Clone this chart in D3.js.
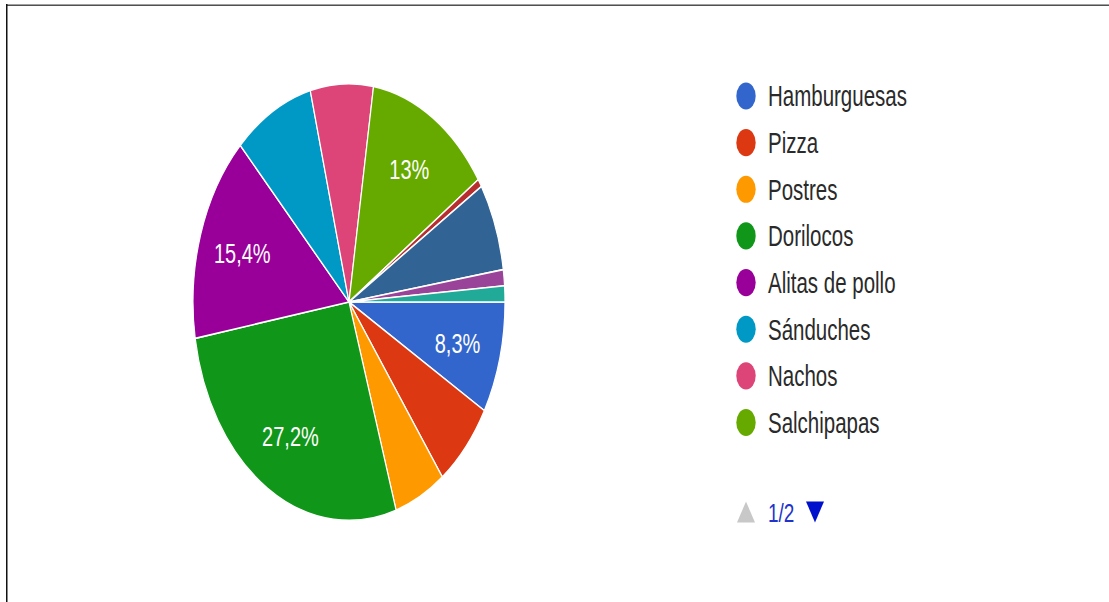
<!DOCTYPE html>
<html>
<head>
<meta charset="utf-8">
<script src="https://cdn.jsdelivr.net/npm/d3@7"></script>
<style>
  html, body { margin: 0; padding: 0; background: #fff; }
  svg { display: block; }
</style>
</head>
<body>
<svg id="chart" width="1109" height="602"></svg>
<script>
// Survey answers: favourite snack (169 responses)
const categories = ["Hamburguesas", "Pizza", "Postres", "Dorilocos", "Alitas de pollo",
                    "Sánduches", "Nachos", "Salchipapas", "Opción 9", "Opción 10", "Opción 11", "Opción 12"];
const responses = [14, 11, 9, 46, 26, 14, 11, 22, 1, 11, 2, 2];
const sliceColors = ["#3366cc", "#dc3912", "#ff9900", "#109618", "#990099", "#0099c6",
                     "#dd4477", "#66aa00", "#b82e2e", "#316395", "#994499", "#22aa99"];
const legendPageSize = 8;
const legendPage = 1;

const W = 1109, H = 602;
const SY = 1.4;                 // vertical stretch of the whole drawing
const FONT = "'Liberation Sans', Arial, Helvetica, sans-serif";

const svg = d3.select("#chart");

// frame lines along the top and left edges
svg.append("rect").attr("x", 6).attr("y", 4).attr("width", W - 6).attr("height", 1).attr("fill", "#a0a0a0");
svg.append("rect").attr("x", 6).attr("y", 5).attr("width", W - 6).attr("height", 1).attr("fill", "#505050");
svg.append("rect").attr("x", 6).attr("y", 4).attr("width", 1.5).attr("height", H - 4).attr("fill", "#111");

const plot = svg.append("g").attr("transform", `scale(1,${SY})`);

// ---- pie ----
const cx = 349, cy = 302 / SY, R = 156;
const data = categories.map((name, i) => ({ name, value: responses[i], color: sliceColors[i] }));
const total = d3.sum(responses);

const pie = d3.pie()
  .sort(null)
  .value(d => d.value)
  .startAngle(Math.PI / 2)
  .endAngle(Math.PI / 2 + 2 * Math.PI);
const arcs = pie(data);

const arc = d3.arc().innerRadius(0).outerRadius(R);
const labelArc = d3.arc().innerRadius(R * 0.72).outerRadius(R * 0.72);

const pieG = plot.append("g").attr("transform", `translate(${cx},${cy})`);

pieG.selectAll("path.slice")
  .data(arcs)
  .join("path")
  .attr("class", "slice")
  .attr("d", arc)
  .attr("fill", d => d.data.color)
  .attr("stroke", "#fff")
  .attr("stroke-width", 1.2)
  .attr("stroke-linejoin", "round");

const es = d3.formatLocale({ decimal: ",", thousands: ".", grouping: [3], currency: ["", " €"] });
const pct = es.format(".1~%");

// a label is kept only when its box sits inside the slice with some room to spare
function labelFits(d, x, y, w, h, margin) {
  const a0 = d.startAngle, a1 = d.endAngle;
  const wide = a1 - a0 > Math.PI;
  const corners = [[x - w / 2, y - h / 2], [x + w / 2, y - h / 2], [x - w / 2, y + h / 2], [x + w / 2, y + h / 2]];
  return corners.every(([px, py]) => {
    if (Math.hypot(px, py) > R - margin) return false;
    const d0 = Math.sin(a0) * py + Math.cos(a0) * px;
    const d1 = -(Math.sin(a1) * py + Math.cos(a1) * px);
    return wide ? (d0 >= margin || d1 >= margin) : (d0 >= margin && d1 >= margin);
  });
}

const labelSize = 20;
pieG.selectAll("text.pct")
  .data(arcs)
  .join("text")
  .attr("class", "pct")
  .attr("x", d => labelArc.centroid(d)[0])
  .attr("y", d => labelArc.centroid(d)[1])
  .attr("dy", "0.36em")
  .attr("text-anchor", "middle")
  .attr("font-family", FONT)
  .attr("font-size", labelSize)
  .attr("fill", "#fff")
  .text(d => pct(d.value / total))
  .each(function (d) {
    const [x, y] = labelArc.centroid(d);
    const w = this.getComputedTextLength();
    if (!labelFits(d, x, y, w, labelSize * 0.72, 8)) d3.select(this).remove();
  });

// ---- legend (first page) ----
const pageCount = Math.ceil(categories.length / legendPageSize);
const pageItems = data.slice((legendPage - 1) * legendPageSize, legendPage * legendPageSize);
const rowY = d3.scalePoint()
  .domain(pageItems.map(d => d.name))
  .range([96 / SY, 422.5 / SY]);

const legend = plot.append("g").attr("transform", "translate(746,0)");
const rows = legend.selectAll("g.row")
  .data(pageItems)
  .join("g")
  .attr("class", "row")
  .attr("transform", d => `translate(0,${rowY(d.name)})`);

rows.append("circle")
  .attr("r", 9.7)
  .attr("fill", d => d.color);

rows.append("text")
  .attr("x", 22)
  .attr("dy", "0.36em")
  .attr("font-family", FONT)
  .attr("font-size", 20.5)
  .attr("fill", "#2a2a2a")
  .text(d => d.name);

// ---- legend paging ----
const pager = plot.append("g").attr("transform", `translate(746,${512 / SY})`);
pager.append("path")
  .attr("d", "M0,-7.5 L9,7.5 L-9,7.5 Z")
  .attr("fill", legendPage > 1 ? "#0011cc" : "#c8c8c8");
pager.append("text")
  .attr("x", 22)
  .attr("dy", "0.36em")
  .attr("font-family", FONT)
  .attr("font-size", 19)
  .attr("fill", "#2233cc")
  .text(`${legendPage}/${pageCount}`);
pager.append("path")
  .attr("d", "M69,7.5 L78,-7.5 L60,-7.5 Z")
  .attr("fill", legendPage < pageCount ? "#0011cc" : "#c8c8c8");
</script>
</body>
</html>
